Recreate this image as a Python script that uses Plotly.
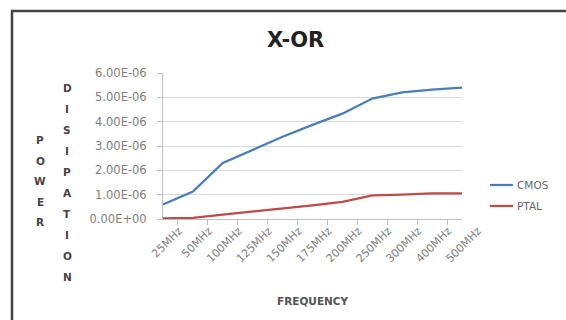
import plotly.graph_objects as go

categories = ["25MHz", "50MHz", "100MHz", "125MHz", "150MHz", "175MHz",
              "200MHz", "250MHz", "300MHz", "400MHz", "500MHz"]
cmos = [0.60e-6, 1.13e-6, 2.30e-6, 2.85e-6, 3.38e-6, 3.87e-6,
        4.33e-6, 4.95e-6, 5.20e-6, 5.32e-6, 5.40e-6]
ptal = [0.03e-6, 0.05e-6, 0.18e-6, 0.30e-6, 0.42e-6, 0.56e-6,
        0.70e-6, 0.97e-6, 1.00e-6, 1.05e-6, 1.05e-6]
y_tickvals = [0, 1e-6, 2e-6, 3e-6, 4e-6, 5e-6, 6e-6]
y_ticktext = ["0.00E+00", "1.00E-06", "2.00E-06", "3.00E-06",
              "4.00E-06", "5.00E-06", "6.00E-06"]
series_names = ["CMOS", "PTAL"]
series_colors = ["#4A7EBB", "#BE4B48"]

W, H = 566, 320
PX0, PX1, PY0, PY1 = 163, 462, 73, 219  # plot area in pixels


def px(x):
    return (x - PX0) / (PX1 - PX0)


def py(y):
    return (PY1 - y) / (PY1 - PY0)


FONT = "DejaVu Sans"
fig = go.Figure()
for name, vals, col in zip(series_names, [cmos, ptal], series_colors):
    fig.add_trace(go.Scatter(x=categories, y=vals, mode="lines", name=name,
                             line=dict(color=col, width=2.25), showlegend=False))

annotations = []
shapes = []
# title
annotations.append(dict(text="<b>X-OR</b>", x=px(295), y=py(40), xref="paper", yref="paper",
                        showarrow=False, font=dict(family=FONT, size=21, color="#222222"),
                        xanchor="center", yanchor="middle"))
# x-axis title
annotations.append(dict(text="<b>FREQUENCY</b>", x=px(313), y=py(301), xref="paper", yref="paper",
                        showarrow=False, font=dict(family=FONT, size=10.5, color="#555555"),
                        xanchor="center", yanchor="middle"))
# vertical y-axis title letters
for i, ch in enumerate("POWER"):
    annotations.append(dict(text="<b>%s</b>" % ch, x=px(40), y=py(140 + i * 20.5), xref="paper",
                            yref="paper", showarrow=False,
                            font=dict(family=FONT, size=10.5, color="#444444"),
                            xanchor="center", yanchor="middle"))
for i, ch in enumerate("DISIPATION"):
    annotations.append(dict(text="<b>%s</b>" % ch, x=px(67), y=py(88 + i * 21), xref="paper",
                            yref="paper", showarrow=False,
                            font=dict(family=FONT, size=10.5, color="#444444"),
                            xanchor="center", yanchor="middle"))
# custom legend
for i, (name, col) in enumerate(zip(series_names, series_colors)):
    ly = 185 + i * 21
    shapes.append(dict(type="line", xref="paper", yref="paper", x0=px(490), x1=px(513),
                       y0=py(ly), y1=py(ly), line=dict(color=col, width=2.25)))
    annotations.append(dict(text=name, x=px(515), y=py(ly), xref="paper", yref="paper",
                            showarrow=False, font=dict(family=FONT, size=10.5, color="#666666"),
                            xanchor="left", yanchor="middle"))
# outer frame
shapes.append(dict(type="rect", xref="paper", yref="paper", x0=px(12), y0=py(11),
                   x1=px(640), y1=py(400), line=dict(color="#444444", width=2.5),
                   fillcolor="rgba(0,0,0,0)", layer="above"))

fig.update_layout(
    width=W, height=H,
    margin=dict(l=PX0, r=W - PX1, t=PY0, b=H - PY1),
    paper_bgcolor="white", plot_bgcolor="white",
    showlegend=False,
    annotations=annotations, shapes=shapes,
    xaxis=dict(type="category", showgrid=False, showline=True, linecolor="#bfbfbf", linewidth=1,
               ticks="outside", ticklen=5, tickcolor="#bfbfbf", tickson="boundaries",
               tickangle=-45, ticklabelshift=16,
               tickfont=dict(family=FONT, size=11, color="#808080")),
    yaxis=dict(range=[0, 6e-6], tickvals=y_tickvals, ticktext=y_ticktext,
               showgrid=True, gridcolor="#d9d9d9", gridwidth=1, zeroline=False,
               showline=True, linecolor="#bfbfbf", linewidth=1,
               ticks="outside", ticklen=5, tickcolor="#bfbfbf", ticklabelstandoff=8,
               tickfont=dict(family=FONT, size=11.5, color="#808080")),
)

fig.write_html("out.html", config={"displayModeBar": False},
               post_script="document.body.style.margin='0';document.body.style.overflow='hidden';")
